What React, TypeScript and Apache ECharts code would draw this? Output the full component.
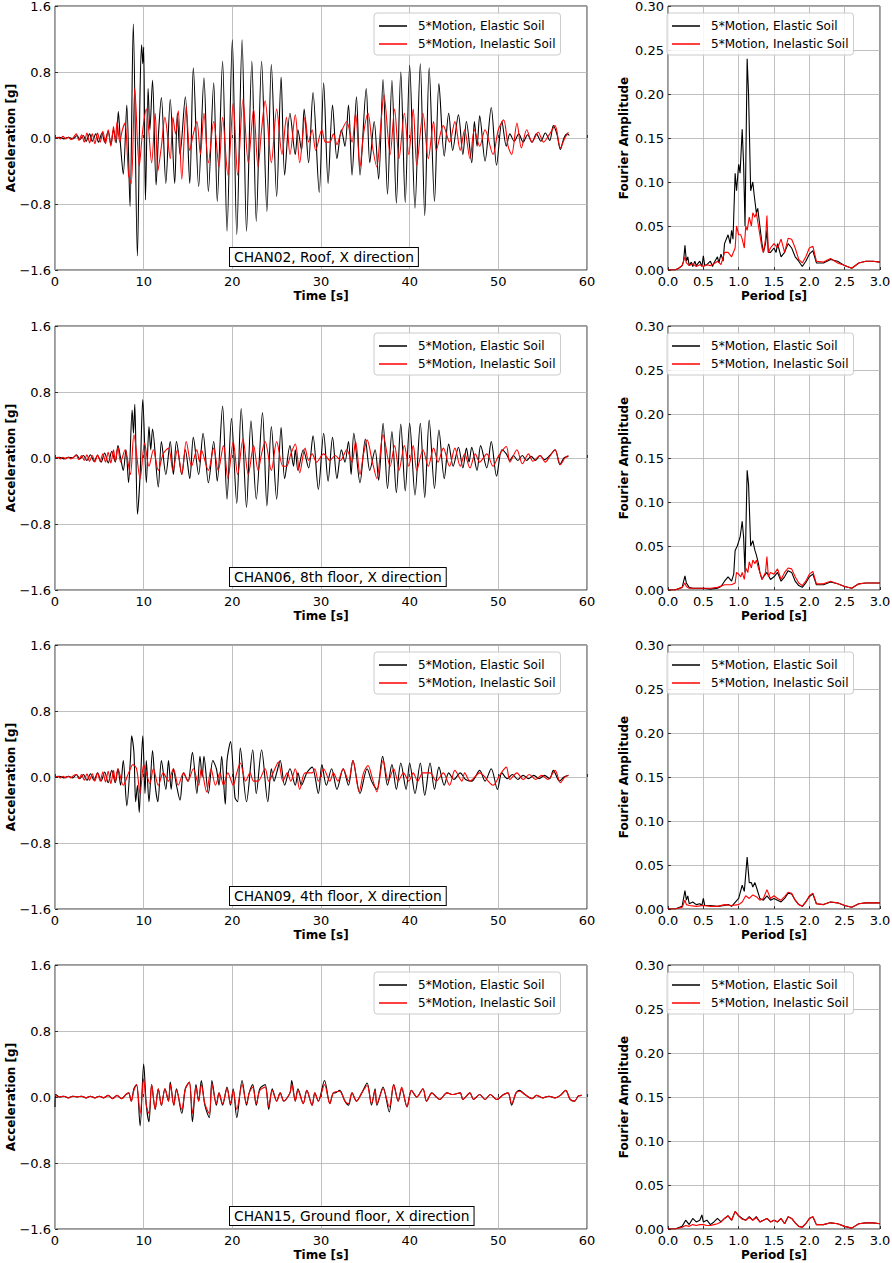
import React, { useEffect, useRef } from "react";
import * as echarts from "echarts";

type P = [number, number][];

const ELASTIC = "5*Motion, Elastic Soil";
const INELASTIC = "5*Motion, Inelastic Soil";

const channelLabels = [
  "CHAN02, Roof, X direction",
  "CHAN06, 8th floor, X direction",
  "CHAN09, 4th floor, X direction",
  "CHAN15, Ground floor, X direction",
];

const accTicks = [-1.6, -0.8, 0, 0.8, 1.6];
const timeTicks = [0, 10, 20, 30, 40, 50, 60];
const ampTicks = [0, 0.05, 0.1, 0.15, 0.2, 0.25, 0.3];
const periodTicks = [0, 0.5, 1, 1.5, 2, 2.5, 3];

// ---- Time histories (time [s], acceleration [g]) ----
const chan02Elastic: P = [[0,0],[0.5,0.01],[1,-0.01],[1.5,0.01],[2,-0.01],[2.5,0.03],[2.8,-0.02],[3.2,0.03],[3.5,-0.04],[3.9,0.05],[4.2,-0.04],[4.6,0.05],[4.9,-0.05],[5.3,0.06],[5.6,-0.05],[6.0,0.08],[6.3,-0.08],[6.6,0.1],[6.9,-0.06],
[7.14,0.32],[7.4,-0.1],[7.7,-0.44],[8.1,0.40],[8.46,-0.83],[8.83,1.38],[9.29,-1.43],[9.6,0.6],[9.77,1.13],[9.9,0.9],[10.0,1.1],[10.2,-0.75],[10.5,0.6],[10.7,0.1],[11.0,0.7],[11.4,-0.57],[11.7,0.1],[12.0,0.49],[12.5,-0.55],[13.0,0.47],[13.5,-0.55],[13.8,0.3],[14.1,-0.2],[14.7,0.5],[15.2,-0.55],[15.6,0.85],[16.2,-0.59],[16.8,0.73],[17.3,-0.65],[17.9,0.67],[18.3,-0.77],[18.9,0.93],[19.4,-1.13],[20.0,1.19],[20.5,-1.17],[21.1,1.19],[21.6,-1.13],[22.2,0.93],[22.7,-1.01],[23.3,0.93],[23.9,-0.89],[24.4,0.89],[25.0,-0.71],[25.5,0.74],[25.9,-0.45],[26.5,0.3],[27.1,-0.2],[27.4,0.1],[27.8,-0.15],[28.1,0.35],[28.6,-0.3],[29.1,0.55],[29.8,-0.66],[30.3,0.67],[30.8,-0.55],[31.3,0.4],[31.8,-0.25],[32.3,0.1],[32.7,-0.1],[33.1,0.4],[33.5,-0.45],[34.0,0.5],[34.4,-0.45],[35.1,0.6],[35.5,-0.3],[36.0,0.2],[36.5,-0.5],[37.0,0.71],[37.5,-0.68],[38.0,0.7],[38.5,-0.79],[39.0,0.8],[39.5,-0.78],[40.0,0.88],[40.6,-0.85],[41.2,0.9],[41.7,-0.94],[42.2,0.85],[42.8,-0.77],[43.3,0.66],[43.9,-0.22],[44.4,0.3],[44.85,-0.15],[45.5,0.28],[46.0,-0.2],[46.4,0.2],[47.0,-0.3],[47.3,0.2],[47.6,-0.1],[47.9,0.27],[48.5,-0.28],[49.2,0.37],[49.8,-0.33],[50.4,0.2],[50.9,-0.1],[51.3,0.05],[51.8,-0.04],[52.3,0.05],[52.8,-0.05],[53.3,0.04],[53.8,-0.05],[54.3,0.05],[54.8,-0.04],[55.3,0.06],[55.8,-0.03],[56.2,0.15],[56.6,0.05],[57.0,-0.14],[57.4,0.0],[57.8,0.05],[58,0.03]];

const chan02Inelastic: P = [[0,0],[0.3,0.01],[0.6,-0.01],[0.9,0.02],[1.2,-0.01],[1.5,0.01],[1.8,-0.02],[2.1,0.01],[2.4,0.05],[2.7,-0.03],[3.0,0.04],[3.3,-0.05],[3.6,0.06],[3.9,-0.06],[4.2,0.05],[4.5,-0.07],[4.8,0.06],[5.1,-0.05],[5.4,0.08],[5.7,-0.07],[6.0,0.1],[6.3,-0.1],[6.6,0.14],[6.8,-0.05],[7.0,0.2],[7.3,-0.05],[7.6,0.1],[7.9,0.18],[8.3,-0.45],[8.6,-0.55],[9.0,0.6],[9.5,-0.34],[9.9,0.1],[10.3,0.35],[10.9,-0.3],[11.3,0.3],[11.6,-0.4],[12.0,-0.1],[12.4,0.25],[13.0,-0.25],[13.3,0.25],[13.6,0.05],[13.9,0.33],[14.3,-0.5],[14.8,0.38],[15.2,-0.15],[15.6,0.05],[16.0,0.2],[16.4,-0.2],[16.8,0.3],[17.3,-0.3],[17.9,0.2],[18.5,-0.35],[18.9,0.25],[19.5,-0.45],[20.1,0.42],[20.6,-0.45],[21.2,0.47],[21.8,-0.3],[22.4,0.35],[22.9,-0.35],[23.3,0.1],[23.7,0.45],[24.4,-0.3],[25.0,0.35],[25.6,-0.2],[26.1,0.25],[26.5,-0.2],[27.1,0.28],[27.6,-0.3],[28.2,0.25],[28.6,-0.05],[29.0,0.1],[29.4,-0.15],[30.1,0.1],[30.5,-0.05],[31.0,-0.05],[31.4,0.05],[31.8,-0.08],[32.2,0.05],[32.9,0.2],[33.5,-0.05],[33.9,0.3],[34.4,-0.35],[34.8,0.05],[35.3,0.3],[35.8,-0.1],[36.3,-0.35],[36.7,0.1],[37.1,0.52],[37.8,-0.2],[38.3,0.35],[38.8,-0.25],[39.4,0.3],[39.9,-0.2],[40.4,0.35],[40.8,-0.33],[41.5,0.3],[42.1,-0.25],[42.7,0.2],[43.0,-0.15],[43.8,0.15],[44.5,-0.05],[45.1,0.2],[45.7,-0.15],[46.2,0.1],[46.8,-0.25],[47.3,0.1],[47.9,-0.1],[48.5,0.1],[49.4,-0.2],[50.0,0.1],[50.6,0.22],[51.1,-0.1],[51.5,-0.2],[52.1,0.18],[52.6,-0.12],[53.2,0.1],[53.8,-0.05],[54.5,0.07],[55.1,-0.05],[55.8,0.05],[56.4,0.15],[57.0,-0.12],[57.5,0.0],[57.9,0.07]];

const chan06Elastic: P = [[0,0],[0.5,0.01],[1,-0.01],[1.5,0.01],[2,0.0],[2.4,0.04],[2.8,-0.01],[3.2,0.03],[3.6,-0.03],[4.0,0.04],[4.4,-0.04],[4.8,0.03],[5.2,-0.05],[5.6,0.06],[6.0,-0.06],[6.4,0.08],[6.8,-0.05],[7.1,0.15],[7.4,0.0],[7.7,-0.15],[8.0,0.1],[8.3,-0.3],[8.7,0.58],[8.85,0.3],[9.0,0.65],[9.3,-0.68],[9.6,-0.2],[9.9,0.71],[10.3,-0.3],[10.6,0.38],[10.8,0.1],[11.0,0.35],[11.65,-0.35],[12.0,0.2],[12.5,-0.2],[13.0,0.2],[13.35,-0.2],[13.7,0.2],[14.3,-0.2],[14.7,0.1],[15.2,-0.25],[15.6,0.25],[16.2,-0.2],[16.7,0.3],[17.3,-0.3],[17.9,0.2],[18.3,-0.28],[18.9,0.63],[19.4,-0.5],[19.9,0.48],[20.5,-0.55],[21.0,0.6],[21.6,-0.6],[22.1,0.45],[22.7,-0.5],[23.4,0.55],[23.9,-0.58],[24.4,0.38],[25.0,-0.5],[25.5,0.37],[25.9,-0.25],[26.5,0.15],[26.9,-0.1],[27.1,0.1],[27.4,-0.15],[28.0,0.1],[28.6,-0.12],[29.1,0.27],[29.7,-0.38],[30.3,0.3],[30.8,-0.28],[31.3,0.25],[31.8,-0.25],[32.3,0.1],[32.7,-0.05],[33.1,0.2],[33.4,-0.2],[33.7,0.3],[34.4,-0.3],[35.0,0.23],[35.5,-0.15],[36.1,0.1],[36.5,-0.27],[37.0,0.42],[37.5,-0.37],[38.0,0.32],[38.5,-0.42],[39.0,0.41],[39.5,-0.4],[40.0,0.42],[40.6,-0.45],[41.2,0.42],[41.7,-0.48],[42.2,0.46],[42.8,-0.37],[43.3,0.34],[43.9,-0.25],[44.4,0.17],[44.9,-0.1],[45.5,0.13],[46.0,-0.12],[46.4,0.12],[46.7,-0.05],[47.0,0.13],[47.6,-0.15],[48.0,0.15],[48.7,-0.12],[49.2,0.2],[49.8,-0.22],[50.4,0.1],[50.9,0.05],[51.3,-0.03],[51.7,0.03],[52.2,-0.03],[52.7,0.03],[53.2,-0.03],[53.7,0.02],[54.2,-0.03],[54.7,0.03],[55.2,-0.02],[55.8,0.03],[56.4,0.1],[56.95,-0.08],[57.4,0.0],[57.9,0.02]];

const chan06Inelastic: P = [[0,0],[0.3,0.01],[0.6,-0.01],[0.9,0.01],[1.2,-0.01],[1.5,0.01],[1.8,-0.01],[2.1,0.01],[2.4,0.03],[2.7,-0.02],[3.0,0.03],[3.3,-0.03],[3.6,0.04],[3.9,-0.04],[4.2,0.03],[4.5,-0.05],[4.8,0.04],[5.1,-0.04],[5.4,0.05],[5.7,-0.05],[6.0,0.07],[6.3,-0.06],[6.6,0.1],[6.8,-0.04],[7.1,0.13],[7.4,-0.05],[7.9,0.1],[8.5,-0.2],[8.9,0.28],[9.6,-0.25],[10.1,0.18],[10.6,-0.1],[11.1,0.1],[11.65,-0.15],[12.2,0.05],[12.8,0.12],[13.3,-0.15],[13.8,0.1],[14.3,-0.2],[14.8,0.2],[15.4,-0.1],[16.0,0.1],[16.3,-0.05],[16.5,0.1],[17.3,-0.15],[17.9,0.12],[18.4,-0.15],[19.0,0.15],[19.5,-0.25],[20.1,0.2],[20.6,-0.2],[21.2,0.23],[21.8,-0.2],[22.4,0.15],[22.9,-0.15],[23.3,0.05],[23.7,0.2],[24.4,-0.15],[25.0,0.2],[25.7,-0.1],[26.1,-0.1],[26.6,0.05],[27.1,0.17],[27.6,-0.18],[28.2,0.12],[28.6,-0.03],[29.0,0.05],[29.5,-0.05],[30.3,0.05],[31.0,-0.03],[31.6,0.03],[32.2,-0.03],[32.9,0.1],[33.5,-0.05],[33.9,0.2],[34.4,-0.2],[34.8,0.05],[35.2,0.22],[35.8,-0.05],[36.3,-0.25],[37.0,0.28],[37.8,-0.1],[38.3,0.15],[38.8,-0.15],[39.4,0.15],[39.9,-0.1],[40.4,0.15],[40.8,-0.15],[41.5,0.1],[42.1,-0.1],[42.7,0.12],[43.2,-0.05],[43.8,0.12],[44.5,-0.1],[45.1,0.12],[45.7,-0.1],[46.2,0.05],[46.8,-0.12],[47.4,0.05],[47.9,-0.05],[48.7,0.05],[49.4,-0.1],[50.0,0.02],[50.9,0.14],[51.3,-0.05],[52.1,0.1],[52.7,-0.07],[53.4,0.05],[53.9,-0.04],[54.7,0.03],[55.3,-0.05],[55.8,0.02],[56.4,0.1],[57.0,-0.08],[57.5,0.0],[57.9,0.03]];

const chan09Elastic: P = [[0,0],[0.5,0.01],[1,-0.01],[1.5,0.01],[2,-0.01],[2.4,0.03],[2.8,-0.02],[3.2,0.03],[3.6,-0.04],[4.0,0.04],[4.4,-0.04],[4.8,0.05],[5.2,-0.05],[5.6,0.06],[6.0,-0.07],[6.4,0.08],[6.8,-0.07],[7.1,0.1],[7.4,-0.1],[7.7,0.2],[8.1,-0.35],[8.5,0.2],[8.65,0.5],[8.9,0.3],[9.1,-0.3],[9.3,-0.1],[9.5,-0.43],[9.7,0.1],[9.9,0.5],[10.15,-0.2],[10.3,0.2],[10.6,-0.3],[11.0,0.32],[11.3,-0.1],[11.6,-0.3],[12.0,0.2],[12.5,-0.15],[12.8,0.2],[13.1,-0.15],[13.35,0.1],[13.7,-0.1],[14.1,-0.28],[14.5,0.05],[15.0,-0.05],[15.5,0.3],[16.0,-0.2],[16.35,0.25],[16.6,0.0],[16.8,0.25],[17.3,-0.2],[17.8,0.2],[18.2,0.1],[18.5,-0.1],[18.8,0.25],[19.2,-0.33],[19.4,0.2],[19.8,0.43],[20.3,-0.25],[20.6,-0.3],[20.9,0.35],[21.6,-0.3],[22.3,0.33],[22.7,-0.2],[23.3,0.33],[24.0,-0.3],[24.4,0.1],[24.7,-0.05],[25.0,0.05],[25.4,0.2],[25.9,-0.1],[26.5,0.1],[27.1,-0.1],[27.4,0.05],[27.8,-0.1],[28.4,0.05],[29.0,0.12],[29.7,-0.2],[30.1,0.15],[30.6,-0.1],[31.2,0.1],[31.8,-0.15],[32.5,0.1],[33.1,-0.1],[33.6,0.2],[34.4,-0.2],[35.2,0.1],[35.7,-0.05],[36.3,-0.15],[36.95,0.25],[37.5,-0.1],[38.0,0.15],[38.5,-0.15],[39.0,0.17],[39.6,-0.15],[40.0,0.17],[40.6,-0.2],[41.2,0.17],[41.7,-0.22],[42.3,0.17],[42.8,-0.15],[43.3,0.12],[43.9,-0.1],[44.4,0.05],[45.0,-0.03],[45.7,0.05],[46.3,-0.03],[47.0,-0.05],[47.9,0.08],[48.5,-0.05],[49.2,0.1],[49.9,-0.15],[50.4,0.05],[51.0,-0.02],[51.6,0.03],[52.2,-0.03],[52.8,0.02],[53.4,-0.02],[54.0,0.02],[54.6,-0.02],[55.2,0.02],[55.8,-0.02],[56.2,0.08],[56.9,-0.05],[57.4,0.0],[57.9,0.02]];

const chan09Inelastic: P = [[0,0],[0.3,0.01],[0.6,-0.01],[0.9,0.01],[1.2,-0.01],[1.5,0.01],[1.8,-0.01],[2.1,0.02],[2.4,0.03],[2.7,-0.02],[3.0,0.03],[3.3,-0.04],[3.6,0.04],[3.9,-0.04],[4.2,0.04],[4.5,-0.05],[4.8,0.05],[5.1,-0.05],[5.4,0.06],[5.7,-0.06],[6.0,0.07],[6.3,-0.08],[6.6,0.08],[6.8,-0.06],[7.1,0.1],[7.7,-0.1],[8.3,0.05],[8.8,0.15],[9.2,0.1],[9.6,-0.2],[10.0,0.15],[10.3,0.05],[10.7,-0.08],[11.1,0.1],[11.65,-0.1],[12.2,0.05],[12.8,-0.05],[13.35,0.1],[13.9,-0.1],[14.5,0.05],[15.0,-0.05],[15.6,0.1],[16.2,-0.1],[16.5,0.1],[17.1,-0.18],[17.6,0.1],[18.1,-0.1],[18.6,0.05],[19.0,-0.1],[19.5,0.05],[20.1,-0.1],[20.5,0.05],[20.9,0.17],[21.5,-0.05],[22.0,0.05],[22.4,-0.05],[22.9,-0.05],[23.7,0.1],[24.1,-0.05],[24.6,0.05],[25.2,0.18],[25.7,-0.05],[26.2,0.05],[26.6,-0.05],[27.1,0.1],[27.6,-0.15],[28.2,0.05],[29.0,0.05],[29.3,0.1],[29.7,-0.05],[30.3,0.1],[31.0,-0.05],[31.4,0.05],[31.9,-0.05],[32.5,0.1],[33.1,-0.05],[33.6,0.2],[34.3,-0.18],[34.8,0.05],[35.3,0.14],[35.8,-0.02],[36.3,-0.18],[37.0,0.2],[37.6,-0.05],[38.2,0.1],[38.7,-0.05],[39.3,0.05],[39.9,-0.05],[40.4,0.05],[40.9,-0.05],[41.5,0.05],[42.3,0.05],[43.0,-0.05],[43.8,0.05],[44.5,-0.1],[45.1,0.08],[45.9,-0.05],[46.2,0.05],[46.8,-0.05],[47.9,0.05],[49.4,-0.1],[50.2,0.03],[50.9,0.12],[51.3,-0.03],[52.1,0.05],[52.8,-0.03],[53.5,0.03],[54.2,-0.03],[54.9,0.02],[55.6,-0.03],[56.4,0.08],[57.0,-0.07],[57.5,0.0],[57.9,0.02]];

const chan15Elastic: P = [[0,-0.12],[0.1,0.03],[0.5,0.0],[1,0.01],[1.5,-0.01],[2,0.01],[2.5,0.0],[3,0.01],[3.5,-0.01],[4,0.01],[4.5,-0.01],[5,0.01],[5.5,-0.01],[6,0.02],[6.5,-0.02],[7,0.02],[7.5,-0.02],[8.0,0.03],[8.3,0.05],[8.6,-0.05],[8.9,0.1],[9.2,0.15],[9.6,-0.35],[10.0,0.4],[10.3,-0.1],[10.6,-0.3],[10.9,0.15],[11.3,-0.15],[11.65,0.1],[12.0,-0.1],[12.4,0.1],[12.8,-0.05],[13.0,0.18],[13.4,-0.1],[13.7,0.1],[14.3,-0.2],[14.7,0.1],[15.15,0.18],[15.5,-0.3],[15.9,0.15],[16.2,-0.05],[16.5,0.2],[16.9,-0.1],[17.4,-0.25],[17.7,0.2],[18.2,-0.1],[18.5,0.05],[18.9,-0.1],[19.4,0.12],[19.8,-0.1],[20.1,0.1],[20.5,-0.25],[21.1,0.2],[21.6,-0.1],[21.9,0.05],[22.3,0.15],[22.7,-0.1],[23.1,0.1],[23.7,0.15],[24.1,-0.15],[24.5,0.1],[25.0,-0.05],[25.4,0.05],[25.8,-0.05],[26.5,0.05],[26.7,0.2],[27.1,-0.05],[27.4,0.1],[28.0,-0.08],[28.4,0.08],[29.0,-0.1],[29.3,0.05],[29.7,-0.05],[30.4,0.2],[31.0,-0.08],[31.4,0.05],[31.6,0.05],[32.1,0.08],[32.7,-0.05],[33.1,-0.1],[33.5,0.05],[34.0,-0.05],[34.6,0.05],[35.2,0.17],[35.7,-0.1],[36.1,0.1],[36.3,-0.1],[37.0,0.12],[37.7,-0.18],[38.2,0.15],[38.7,-0.05],[39.1,0.1],[39.7,-0.12],[40.2,0.08],[40.8,0.0],[41.5,0.1],[41.9,-0.05],[42.5,0.05],[43.0,0.0],[43.4,-0.03],[44.2,0.05],[44.9,0.03],[45.7,0.05],[46.0,-0.03],[46.8,0.05],[47.2,-0.03],[47.9,0.03],[48.5,-0.03],[49.1,0.03],[49.8,-0.03],[50.6,0.03],[51.1,0.05],[51.5,-0.1],[52.0,0.05],[52.4,0.08],[53.0,0.03],[53.8,-0.02],[54.3,0.02],[55.0,-0.01],[55.7,0.01],[56.4,-0.01],[57.0,0.02],[57.6,0.08],[58.1,-0.03],[58.6,-0.05],[59.0,0.01],[59.4,0.02]];

const chan15Inelastic: P = [[0,0.02],[0.5,0.0],[1,0.01],[1.5,-0.01],[2,0.01],[2.5,0.0],[3,0.01],[3.5,-0.01],[4,0.01],[4.5,-0.01],[5,0.01],[5.5,-0.01],[6,0.02],[6.5,-0.02],[7,0.02],[7.5,-0.02],[8.0,0.03],[8.3,0.05],[8.6,-0.05],[8.9,0.08],[9.2,0.15],[9.6,-0.2],[10.0,0.22],[10.3,-0.1],[10.6,-0.2],[10.9,0.15],[11.3,-0.15],[11.65,0.1],[12.0,-0.1],[12.4,0.1],[12.8,-0.05],[13.0,0.15],[13.4,-0.1],[13.7,0.08],[14.3,-0.15],[14.7,0.1],[15.15,0.18],[15.5,-0.2],[15.9,0.12],[16.2,-0.05],[16.5,0.15],[16.9,-0.08],[17.4,-0.2],[17.7,0.15],[18.2,-0.08],[18.5,0.05],[18.9,-0.08],[19.4,0.1],[19.8,-0.08],[20.1,0.08],[20.5,-0.15],[21.1,0.15],[21.6,-0.08],[21.9,0.05],[22.3,0.12],[22.7,-0.08],[23.1,0.08],[23.7,0.12],[24.1,-0.12],[24.5,0.08],[25.0,-0.05],[25.4,0.05],[25.8,-0.05],[26.5,0.05],[26.7,0.15],[27.1,-0.05],[27.4,0.08],[28.0,-0.08],[28.4,0.08],[29.0,-0.1],[29.3,0.05],[29.7,-0.05],[30.4,0.15],[31.0,-0.08],[31.4,0.05],[32.1,0.07],[32.7,-0.05],[33.1,-0.08],[33.5,0.05],[34.0,-0.05],[34.6,0.05],[35.2,0.14],[35.7,-0.08],[36.1,0.08],[36.3,-0.08],[37.0,0.1],[37.7,-0.12],[38.2,0.15],[38.7,-0.05],[39.1,0.12],[39.7,-0.12],[40.2,0.08],[40.8,0.0],[41.5,0.1],[41.9,-0.05],[42.5,0.05],[43.0,0.0],[43.4,-0.03],[44.2,0.05],[44.9,0.03],[45.7,0.05],[46.0,-0.03],[46.8,0.05],[47.2,-0.03],[47.9,0.03],[48.5,-0.03],[49.1,0.03],[49.8,-0.03],[50.6,0.03],[51.1,0.05],[51.5,-0.08],[52.0,0.05],[52.4,0.07],[53.0,0.03],[53.8,-0.02],[54.3,0.02],[55.0,-0.01],[55.7,0.01],[56.4,-0.01],[57.0,0.02],[57.6,0.08],[58.1,-0.03],[58.6,-0.05],[59.0,0.01],[59.4,0.02]];

// ---- Fourier spectra (period [s], amplitude) ----
const fa02Elastic: P = [[0,0],[0.1,0.0],[0.15,0.002],[0.2,0.005],[0.22,0.01],[0.24,0.028],[0.26,0.01],[0.28,0.015],[0.3,0.005],[0.33,0.009],[0.35,0.004],[0.38,0.01],[0.4,0.005],[0.43,0.008],[0.45,0.01],[0.48,0.004],[0.5,0.016],[0.52,0.005],[0.55,0.006],[0.6,0.01],[0.63,0.004],[0.65,0.008],[0.7,0.015],[0.72,0.008],[0.75,0.018],[0.78,0.01],[0.8,0.03],[0.85,0.04],[0.88,0.03],[0.9,0.045],[0.92,0.035],[0.95,0.11],[0.97,0.09],[1.0,0.12],[1.02,0.11],[1.05,0.16],[1.07,0.12],[1.09,0.05],[1.12,0.24],[1.14,0.2],[1.17,0.09],[1.2,0.1],[1.22,0.085],[1.25,0.065],[1.27,0.07],[1.3,0.05],[1.33,0.03],[1.35,0.02],[1.38,0.03],[1.4,0.045],[1.42,0.02],[1.45,0.02],[1.5,0.025],[1.53,0.02],[1.55,0.03],[1.6,0.015],[1.65,0.02],[1.7,0.03],[1.75,0.025],[1.8,0.015],[1.85,0.01],[1.9,0.004],[1.95,0.01],[2.0,0.018],[2.05,0.022],[2.1,0.008],[2.2,0.008],[2.3,0.012],[2.4,0.01],[2.5,0.005],[2.6,0.002],[2.7,0.008],[2.8,0.01],[2.9,0.01],[3.0,0.009]];

const fa02Inelastic: P = [[0,0],[0.1,0.0],[0.15,0.002],[0.2,0.005],[0.24,0.015],[0.26,0.008],[0.3,0.005],[0.35,0.007],[0.4,0.004],[0.45,0.006],[0.5,0.004],[0.55,0.006],[0.6,0.005],[0.65,0.007],[0.7,0.01],[0.75,0.006],[0.8,0.02],[0.85,0.02],[0.9,0.015],[0.95,0.025],[0.97,0.05],[1.0,0.04],[1.03,0.04],[1.05,0.035],[1.08,0.025],[1.1,0.05],[1.12,0.045],[1.15,0.06],[1.18,0.05],[1.2,0.065],[1.23,0.06],[1.25,0.065],[1.28,0.05],[1.3,0.04],[1.33,0.025],[1.35,0.02],[1.38,0.035],[1.4,0.062],[1.42,0.02],[1.45,0.025],[1.5,0.03],[1.55,0.025],[1.6,0.035],[1.65,0.02],[1.7,0.036],[1.75,0.035],[1.8,0.025],[1.85,0.012],[1.9,0.008],[1.95,0.015],[2.0,0.025],[2.05,0.027],[2.1,0.01],[2.2,0.009],[2.3,0.013],[2.4,0.008],[2.5,0.005],[2.6,0.002],[2.7,0.008],[2.8,0.01],[2.9,0.01],[3.0,0.009]];

const fa06Elastic: P = [[0,0],[0.1,0],[0.2,0.003],[0.24,0.016],[0.26,0.008],[0.3,0.003],[0.35,0.002],[0.4,0.002],[0.5,0.002],[0.6,0.001],[0.7,0.002],[0.75,0.004],[0.8,0.01],[0.85,0.015],[0.9,0.01],[0.93,0.018],[0.95,0.045],[0.98,0.05],[1.0,0.055],[1.02,0.06],[1.05,0.078],[1.07,0.06],[1.09,0.02],[1.12,0.136],[1.14,0.12],[1.17,0.05],[1.2,0.056],[1.23,0.045],[1.25,0.04],[1.28,0.03],[1.3,0.02],[1.33,0.012],[1.35,0.015],[1.4,0.02],[1.45,0.012],[1.5,0.015],[1.55,0.02],[1.6,0.01],[1.65,0.015],[1.7,0.022],[1.75,0.02],[1.8,0.01],[1.85,0.005],[1.9,0.003],[1.95,0.008],[2.0,0.015],[2.05,0.018],[2.1,0.006],[2.2,0.006],[2.3,0.009],[2.4,0.007],[2.5,0.004],[2.6,0.002],[2.7,0.007],[2.8,0.008],[2.9,0.008],[3.0,0.008]];

const fa06Inelastic: P = [[0,0],[0.1,0],[0.2,0.003],[0.24,0.008],[0.26,0.004],[0.3,0.002],[0.4,0.002],[0.5,0.002],[0.6,0.002],[0.7,0.003],[0.8,0.006],[0.9,0.006],[0.95,0.008],[0.97,0.02],[1.0,0.018],[1.03,0.015],[1.05,0.02],[1.08,0.012],[1.1,0.025],[1.13,0.02],[1.15,0.032],[1.18,0.025],[1.2,0.034],[1.23,0.03],[1.25,0.034],[1.28,0.025],[1.3,0.02],[1.33,0.012],[1.35,0.015],[1.38,0.02],[1.4,0.038],[1.42,0.015],[1.45,0.02],[1.5,0.018],[1.55,0.024],[1.6,0.012],[1.65,0.02],[1.7,0.025],[1.75,0.024],[1.8,0.015],[1.85,0.008],[1.9,0.005],[1.95,0.01],[2.0,0.018],[2.05,0.021],[2.1,0.007],[2.2,0.007],[2.3,0.01],[2.4,0.007],[2.5,0.004],[2.6,0.002],[2.7,0.007],[2.8,0.008],[2.9,0.008],[3.0,0.008]];

const fa09Elastic: P = [[0,0],[0.1,0],[0.2,0.003],[0.24,0.021],[0.26,0.01],[0.28,0.015],[0.3,0.006],[0.35,0.008],[0.4,0.005],[0.45,0.006],[0.48,0.004],[0.5,0.012],[0.52,0.004],[0.6,0.004],[0.7,0.003],[0.8,0.004],[0.85,0.005],[0.9,0.003],[1.0,0.012],[1.05,0.027],[1.08,0.02],[1.12,0.059],[1.15,0.03],[1.18,0.03],[1.2,0.025],[1.23,0.03],[1.25,0.025],[1.3,0.012],[1.35,0.01],[1.4,0.015],[1.45,0.01],[1.5,0.012],[1.55,0.01],[1.6,0.008],[1.65,0.012],[1.7,0.018],[1.75,0.017],[1.8,0.01],[1.85,0.005],[1.9,0.003],[1.95,0.008],[2.0,0.014],[2.05,0.017],[2.1,0.006],[2.2,0.005],[2.3,0.008],[2.4,0.007],[2.5,0.004],[2.6,0.002],[2.7,0.006],[2.8,0.007],[2.9,0.007],[3.0,0.007]];

const fa09Inelastic: P = [[0,0],[0.1,0],[0.2,0.002],[0.24,0.01],[0.26,0.005],[0.3,0.004],[0.4,0.003],[0.5,0.004],[0.6,0.003],[0.7,0.003],[0.8,0.005],[0.9,0.004],[1.0,0.005],[1.05,0.008],[1.1,0.015],[1.15,0.012],[1.2,0.016],[1.25,0.014],[1.3,0.01],[1.35,0.012],[1.4,0.022],[1.45,0.012],[1.5,0.015],[1.55,0.012],[1.6,0.01],[1.65,0.014],[1.7,0.019],[1.75,0.018],[1.8,0.01],[1.85,0.005],[1.9,0.003],[1.95,0.008],[2.0,0.015],[2.05,0.018],[2.1,0.006],[2.2,0.005],[2.3,0.008],[2.4,0.007],[2.5,0.004],[2.6,0.002],[2.7,0.006],[2.8,0.007],[2.9,0.007],[3.0,0.007]];

const fa15Elastic: P = [[0,0],[0.1,0],[0.2,0.003],[0.25,0.01],[0.3,0.005],[0.35,0.012],[0.4,0.008],[0.45,0.01],[0.48,0.016],[0.5,0.008],[0.55,0.01],[0.6,0.005],[0.65,0.008],[0.7,0.012],[0.75,0.008],[0.8,0.012],[0.85,0.015],[0.9,0.01],[0.95,0.02],[1.0,0.015],[1.05,0.012],[1.1,0.01],[1.15,0.014],[1.2,0.01],[1.25,0.014],[1.3,0.008],[1.35,0.01],[1.4,0.012],[1.45,0.008],[1.5,0.01],[1.55,0.008],[1.6,0.012],[1.65,0.006],[1.7,0.014],[1.75,0.012],[1.8,0.007],[1.85,0.003],[1.9,0.002],[1.95,0.006],[2.0,0.012],[2.05,0.014],[2.1,0.005],[2.2,0.005],[2.3,0.007],[2.4,0.006],[2.5,0.003],[2.6,0.001],[2.7,0.006],[2.8,0.007],[2.9,0.007],[3.0,0.006]];

const fa15Inelastic: P = [[0,0],[0.1,0],[0.2,0.002],[0.25,0.004],[0.3,0.003],[0.35,0.005],[0.4,0.004],[0.45,0.005],[0.5,0.005],[0.55,0.004],[0.6,0.004],[0.65,0.005],[0.7,0.006],[0.75,0.008],[0.8,0.012],[0.85,0.015],[0.9,0.01],[0.95,0.02],[1.0,0.015],[1.05,0.011],[1.1,0.01],[1.15,0.013],[1.2,0.01],[1.25,0.013],[1.3,0.008],[1.35,0.01],[1.4,0.012],[1.45,0.008],[1.5,0.01],[1.55,0.008],[1.6,0.012],[1.65,0.006],[1.7,0.014],[1.75,0.012],[1.8,0.007],[1.85,0.003],[1.9,0.002],[1.95,0.006],[2.0,0.012],[2.05,0.014],[2.1,0.005],[2.2,0.005],[2.3,0.007],[2.4,0.006],[2.5,0.003],[2.6,0.001],[2.7,0.006],[2.8,0.007],[2.9,0.007],[3.0,0.006]];

const timeElastic = [chan02Elastic, chan06Elastic, chan09Elastic, chan15Elastic];
const timeInelastic = [chan02Inelastic, chan06Inelastic, chan09Inelastic, chan15Inelastic];
const fourierElastic = [fa02Elastic, fa06Elastic, fa09Elastic, fa15Elastic];
const fourierInelastic = [fa02Inelastic, fa06Inelastic, fa09Inelastic, fa15Inelastic];

const ROW_TOPS = [6, 326, 645, 965];
const PLOT_H = 264;
const LEFT_X = 55;
const LEFT_W = 532;
const RIGHT_X = 668;
const RIGHT_W = 212;
const FONT = "DejaVu Sans";

function fmt(v: number, d: number) {
  if (Math.abs(v) < 1e-9) v = 0;
  return v.toFixed(d).replace("-", "\u2212");
}

function buildOption() {
  const grid: any[] = [];
  const xAxis: any[] = [];
  const yAxis: any[] = [];
  const series: any[] = [];
  const legend: any[] = [];
  const graphic: any[] = [];

  const labelStyle = { color: "#000", fontSize: 13, fontFamily: FONT };
  const nameStyle = { color: "#000", fontSize: 12, fontWeight: "bold", fontFamily: FONT };
  const split = { show: true, lineStyle: { color: "#b0b0b0", width: 0.8 } };
  const tick = { show: true, inside: true, length: 3, lineStyle: { color: "#333" } };

  for (let r = 0; r < 4; r++) {
    const top = ROW_TOPS[r];
    const g = { height: PLOT_H, top, show: true, borderColor: "#333", borderWidth: 1, containLabel: false, outerBoundsMode: "none" };
    grid.push({ ...g, left: LEFT_X, width: LEFT_W });
    grid.push({ ...g, left: RIGHT_X, width: RIGHT_W });
    const gl = r * 2;
    const gr = r * 2 + 1;

    xAxis.push({
      type: "value", gridIndex: gl, min: timeTicks[0], max: timeTicks[timeTicks.length - 1], interval: 10,
      name: "Time [s]", nameLocation: "middle", nameGap: 20, nameMoveOverlap: false, nameTextStyle: nameStyle,
      axisLine: { show: false }, axisTick: tick, splitLine: split,
      axisLabel: { ...labelStyle, margin: 5, showMinLabel: true, showMaxLabel: true, formatter: (v: number) => fmt(v, 0) },
    });
    xAxis.push({
      type: "value", gridIndex: gr, min: periodTicks[0], max: periodTicks[periodTicks.length - 1], interval: 0.5,
      name: "Period [s]", nameLocation: "middle", nameGap: 20, nameMoveOverlap: false, nameTextStyle: nameStyle,
      axisLine: { show: false }, axisTick: tick, splitLine: split,
      axisLabel: { ...labelStyle, margin: 5, showMinLabel: true, showMaxLabel: true, formatter: (v: number) => fmt(v, 1) },
    });
    yAxis.push({
      type: "value", gridIndex: gl, min: accTicks[0], max: accTicks[accTicks.length - 1], interval: 0.8,
      name: "Acceleration [g]", nameLocation: "middle", nameGap: 38, nameRotate: 90, nameMoveOverlap: false, nameTextStyle: nameStyle,
      axisLine: { show: false }, axisTick: tick, splitLine: split,
      axisLabel: { ...labelStyle, margin: 4, showMinLabel: true, showMaxLabel: true, formatter: (v: number) => fmt(v, 1) },
    });
    yAxis.push({
      type: "value", gridIndex: gr, min: ampTicks[0], max: ampTicks[ampTicks.length - 1], interval: 0.05,
      name: "Fourier Amplitude", nameLocation: "middle", nameGap: 38, nameRotate: 90, nameMoveOverlap: false, nameTextStyle: nameStyle,
      axisLine: { show: false }, axisTick: tick, splitLine: split,
      axisLabel: { ...labelStyle, margin: 4, showMinLabel: true, showMaxLabel: true, formatter: (v: number) => fmt(v, 2) },
    });

    const line = (name: string, data: P, xi: number, color: string, smooth: number | boolean) => ({
      type: "line", name, data, xAxisIndex: xi, yAxisIndex: xi, color, smooth,
      showSymbol: false, symbol: "none", lineStyle: { color, width: 1.1 }, itemStyle: { color },
      emphasis: { disabled: true }, silent: true, z: 2,
    });
    series.push(line(ELASTIC, timeElastic[r], gl, "#000000", 0.3));
    series.push(line(INELASTIC, timeInelastic[r], gl, "#ff0000", 0.3));
    series.push(line(ELASTIC, fourierElastic[r], gr, "#000000", false));
    series.push(line(INELASTIC, fourierInelastic[r], gr, "#ff0000", false));

    const legendBase = {
      orient: "vertical", data: [ELASTIC, INELASTIC], icon: "rect", itemWidth: 28, itemHeight: 1.5, itemGap: 6,
      selectedMode: false, backgroundColor: "rgba(255,255,255,0.85)", borderColor: "#cccccc", borderWidth: 1,
      borderRadius: 3, padding: [7, 5, 5, 5],
      textStyle: { color: "#000", fontSize: 12, fontFamily: FONT, padding: [0, 0, 0, 6] },
    };
    legend.push({ ...legendBase, left: 374, top: top + 7 });
    legend.push({ ...legendBase, left: 667, top: top + 7 });

    graphic.push({
      type: "text", left: 229, top: top + 241, z: 100,
      style: {
        text: channelLabels[r], font: `13.8px "${FONT}"`, fill: "#000",
        backgroundColor: "#fff", borderColor: "#000", borderWidth: 1, padding: [2, 4, 2, 4],
      },
    });
  }

  return { animation: false, backgroundColor: "#fff", grid, xAxis, yAxis, series, legend, graphic };
}

export default function App() {
  const ref = useRef<HTMLDivElement>(null);
  useEffect(() => {
    document.body.style.margin = "0";
    if (!ref.current) return;
    const chart = echarts.init(ref.current, undefined, { renderer: "svg" });
    chart.setOption(buildOption() as any);
    return () => chart.dispose();
  }, []);
  return <div ref={ref} style={{ width: 892, height: 1263 }} />;
}
